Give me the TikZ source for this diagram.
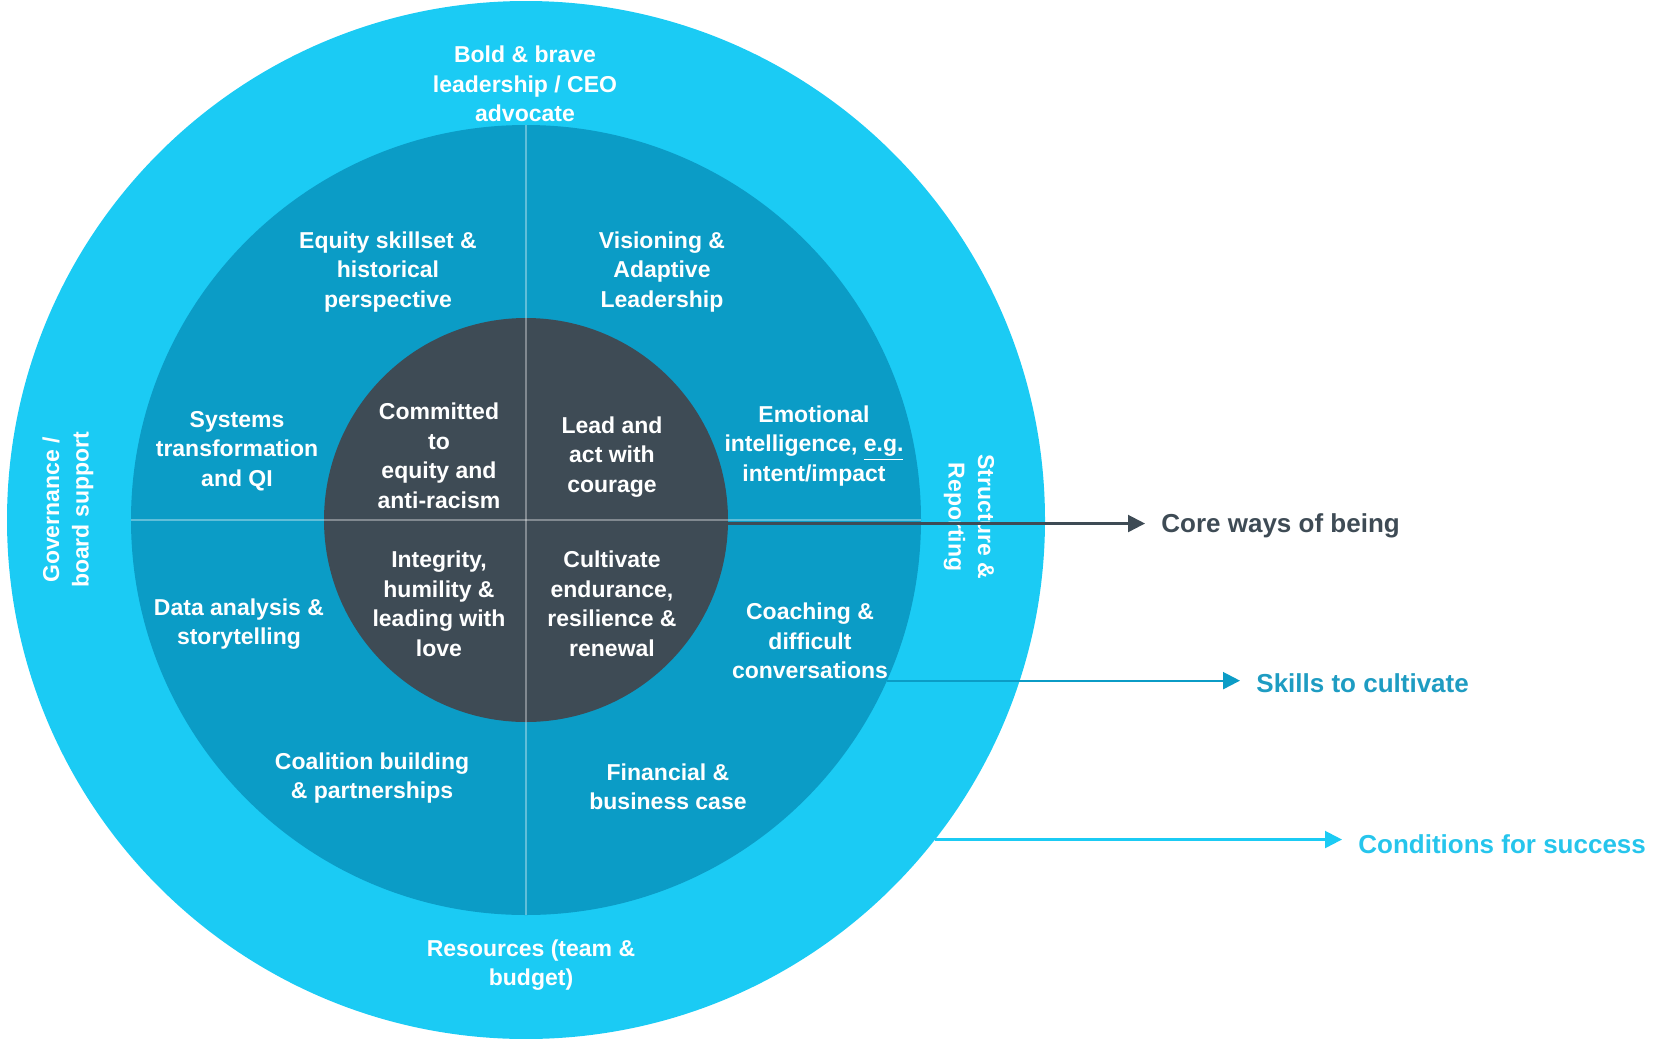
\documentclass[tikz,border=0pt]{standalone}
\usepackage{fontspec}
\setmainfont{Liberation Sans}
\usetikzlibrary{arrows.meta}
\definecolor{ringout}{HTML}{1BCBF4}
\definecolor{ringmid}{HTML}{0B9CC6}
\definecolor{ringin}{HTML}{3E4B55}
\definecolor{skilltext}{HTML}{1E9CC2}
\definecolor{condtext}{HTML}{26C5EC}
\begin{document}
\begin{tikzpicture}[
      x = 0.5pt, y = -0.5pt,
      every node/.style = {align=center, text=white, font=\bfseries\fontsize{11.5}{14.75}\selectfont},
      ring/.style = {shape=circle, inner sep=0pt, outer sep=0pt},
      divider/.style = {draw=white, draw opacity=0.35, line width=0.75pt},
      legend/.style = {anchor=west, inner xsep=8pt, font=\bfseries\fontsize{13}{16}\selectfont},
      pointer/.style = {-{Triangle[length=8.5pt, width=8.5pt]}, line width=1.1pt}
      ]
      \useasboundingbox (0,0) rectangle (1655,1039);
      \node[ring, fill=ringout, minimum size=519pt] (outer) at (526,520) {};
      \node[ring, fill=ringmid, minimum size=395pt] (middle) at (526,520) {};
      \node[ring, fill=ringin, minimum size=202pt] (inner) at (526,520) {};
      \draw[divider] (middle.north) -- (middle.south);
      \draw[divider] (middle.west) -- (middle.east);

      \node (bold) at (525,84) {Bold \& brave\\leadership / CEO\\advocate};
      \node (resources) at (531,965) {Resources (team \&\\budget)};
      \node[rotate=90] (governance) at (68,510) {Governance /\\board support};
      \node[rotate=-90] (structure) at (969,517) {Structure \&\\Reporting};

      \node (equity) at (388,272) {Equity skillset \&\\historical\\perspective};
      \node (vision) at (662,272) {Visioning \&\\Adaptive\\Leadership};
      \node (systems) at (237,451) {Systems\\transformation\\and QI};
      \node (emotion) at (814,446) {Emotional\\intelligence, \underline{e.g.}\\intent/impact};
      \node (data) at (239,624) {Data analysis \&\\storytelling};
      \node (coaching) at (810,641) {Coaching \&\\difficult\\conversations};
      \node (coalition) at (372,778) {Coalition building\\\& partnerships};
      \node (finance) at (668,787) {Financial \&\\business case};

      \node (committed) at (439,456) {Committed\\to\\equity and\\anti-racism};
      \node (courage) at (612,457) {Lead and\\act with\\courage};
      \node (integrity) at (439,604) {Integrity,\\humility \&\\leading with\\love};
      \node (endurance) at (612,604) {Cultivate\\endurance,\\resilience \&\\renewal};

      \node[legend, text=ringin] (core) at (1145,526) {Core ways of being};
      \node[legend, text=skilltext] (skills) at (1240,683) {Skills to cultivate};
      \node[legend, text=condtext] (conditions) at (1342,844) {Conditions for success};
      \draw[pointer, ringin] (inner.-1.7) -- (inner.-1.7 -| core.west);
      \draw[pointer, ringmid] (middle.-24.4) -- (middle.-24.4 -| skills.west);
      \draw[pointer, ringout] (outer.-38.6) -- (outer.-38.6 -| conditions.west);
    \end{tikzpicture}
\end{document}
